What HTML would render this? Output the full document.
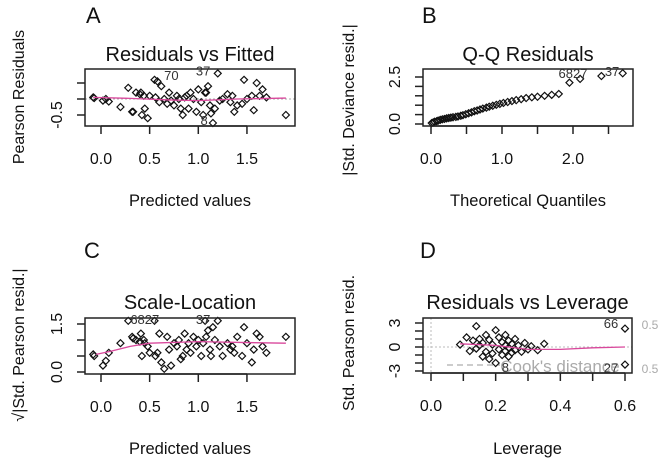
<!DOCTYPE html>
<html><head><meta charset="utf-8"><style>
body{margin:0;background:#fff;}
svg{display:block;font-family:"Liberation Sans",Arial,sans-serif;}
</style></head><body>
<svg id="c" width="669" height="467" viewBox="0 0 669 467"></svg>
<script>
// Panel A data
const fitA=[-0.08,-0.07,0.02,0.05,0.08,0.2,0.28,0.32,0.33,0.36,0.4,0.41,0.42,0.44,0.45,0.48,0.5,0.55,0.56,0.58,0.6,0.62,0.65,0.68,0.7,0.72,0.75,0.78,0.8,0.82,0.84,0.86,0.88,0.9,0.92,0.95,0.98,1.0,1.03,1.05,1.07,1.08,1.1,1.12,1.13,1.15,1.17,1.2,1.22,1.25,1.3,1.33,1.35,1.37,1.4,1.45,1.47,1.5,1.55,1.57,1.6,1.63,1.66,1.7,1.9];
const residA=[0.05,0.03,-0.05,0.0,-0.08,-0.25,0.35,-0.4,-0.4,0.2,0.15,0.2,-0.5,0.1,-0.3,-0.6,0.1,0.6,0.05,0.55,-0.1,0.4,0.0,-0.15,0.2,-0.05,-0.2,0.1,0.0,-0.3,-0.5,0.05,0.1,-0.3,0.2,0.0,-0.4,0.3,-0.1,-0.5,0.2,0.2,0.4,-0.2,-0.45,-0.75,-0.3,0.8,-0.05,0.0,0.15,-0.1,0.1,-0.4,-0.2,-0.15,0.6,0.0,0.1,-0.35,0.5,0.1,0.3,0.05,-0.5];
const smoothAx=[-0.08,0.3,0.7,1.0,1.4,1.9];
const smoothAy=[0.05,0.02,-0.03,-0.05,0.0,0.03];
// Panel B data
const theoB=[0.01,0.03,0.05,0.08,0.1,0.13,0.16,0.19,0.22,0.25,0.28,0.31,0.35,0.38,0.42,0.45,0.49,0.53,0.57,0.61,0.65,0.69,0.73,0.78,0.82,0.87,0.92,0.97,1.02,1.08,1.14,1.2,1.27,1.34,1.42,1.5,1.6,1.7,1.8,1.95,2.1,2.4,2.7];
const residB=[0.05,0.08,0.12,0.15,0.18,0.22,0.25,0.27,0.3,0.32,0.34,0.36,0.38,0.4,0.44,0.47,0.52,0.57,0.62,0.68,0.72,0.77,0.82,0.87,0.92,0.97,1.02,1.07,1.12,1.17,1.22,1.27,1.32,1.38,1.42,1.45,1.5,1.55,1.6,2.2,2.4,2.55,2.7];
// Panel C data
const sqrtC=[0.55,0.5,0.2,0.35,0.6,0.9,1.6,1.1,1.05,1.0,0.95,1.2,0.5,1.0,0.9,0.8,0.6,1.6,0.5,0.6,1.2,0.3,0.1,1.1,0.7,0.2,0.9,0.8,1.0,0.4,0.5,1.2,0.7,0.9,0.6,1.1,0.8,1.0,0.5,0.9,1.6,1.1,1.3,0.7,0.5,1.4,1.0,1.6,0.8,0.5,0.9,0.7,0.8,0.6,1.1,0.5,1.4,0.9,0.3,0.7,1.2,1.1,0.8,0.6,1.1];
const smoothCx=[-0.05,0.1,0.3,0.5,1.0,1.5,1.9];
const smoothCy=[0.55,0.65,0.8,0.9,0.95,0.92,0.9];
// Panel D data
const levD=[0.09,0.11,0.12,0.13,0.14,0.14,0.15,0.15,0.16,0.16,0.17,0.17,0.18,0.18,0.19,0.19,0.2,0.2,0.21,0.21,0.22,0.22,0.23,0.23,0.23,0.24,0.24,0.24,0.25,0.25,0.26,0.26,0.27,0.28,0.29,0.3,0.31,0.33,0.35,0.6,0.6];
const residD=[0.3,1.2,-0.5,0.8,2.6,-0.2,1.0,0.2,-1.2,0.5,1.5,-0.6,0.9,-1.5,0.3,-0.8,2.1,-2.0,1.2,-0.3,0.6,-1.0,1.5,-0.5,0.2,0.8,-1.2,-0.1,0.4,-0.7,1.0,-0.4,0.2,-0.6,0.5,-0.3,0.1,-0.4,0.4,2.3,-2.2];
const smoothDx=[0.09,0.2,0.3,0.4,0.5,0.6];
const smoothDy=[0.4,0.2,-0.3,-0.3,-0.1,0.0];
// tick labels
const ticksAx=[0,0.5,1.0,1.5], ticksAxL=["0.0","0.5","1.0","1.5"];
const ticksBx=[0,0.5,1,1.5,2,2.5], ticksBxL=["0.0","","1.0","","2.0",""];
const ticksDx=[0,0.1,0.2,0.3,0.4,0.5,0.6], ticksDxL=["0.0","","0.2","","0.4","","0.6"];

const svg=document.getElementById('c');
const NS='http://www.w3.org/2000/svg';
function mk(tag,at,parent){const e=document.createElementNS(NS,tag);for(const k in at)e.setAttribute(k,at[k]);(parent||svg).appendChild(e);return e;}
function txt(s,x,y,size,at,parent){const t=mk('text',Object.assign({x:x,y:y,'font-size':size,'text-anchor':'middle',fill:'#111'},at||{}),parent);t.textContent=s;return t;}
function lin(d0,d1,r0,r1){return v=>r0+(v-d0)/(d1-d0)*(r1-r0);}

function panel(o){
  const g=mk('g',{});
  
  
  const X=lin(o.xd[0],o.xd[1],o.xr[0],o.xr[1]), Y=lin(o.yd[0],o.yd[1],o.yr[0],o.yr[1]);
  const L=o.box[0],T=o.box[1],R=o.box[2],B=o.box[3];
  const lab=txt(o.letter,o.letterX,o.letterY,22,{'text-anchor':'start'},g);
  
  const ti=txt(o.title,(L+R)/2,o.titleY,20,{},g);
  
  if(o.extra)o.extra(g,X,Y);
  for(let i=0;i<o.px.length;i++){
    const cx=X(o.px[i]),cy=Y(o.py[i]);
    const p=mk('path',{d:`M${cx-3.5} ${cy}L${cx} ${cy-3.5}L${cx+3.5} ${cy}L${cx} ${cy+3.5}Z`,fill:'none',stroke:'#111','stroke-width':1.2},g);
    
    
  }
  if(o.sx){
    const sl=mk('polyline',{points:o.sx.map((v,i)=>X(v)+','+Y(o.sy[i])).join(' '),fill:'none',stroke:'#d9489c','stroke-width':1.3},g);
    
  }
  const bx=mk('rect',{x:L,y:T,width:R-L,height:B-T,fill:'none',stroke:'#222','stroke-width':1.5},g);
  
  o.xt.forEach((v,i)=>{mk('line',{x1:X(v),x2:X(v),y1:B,y2:B+8,stroke:'#222','stroke-width':1.5},g);
    if(o.xtl[i]){const t=txt(o.xtl[i],X(v),B+38,16,{},g);}});
  mk('line',{x1:X(o.xt[0]),x2:X(o.xt[o.xt.length-1]),y1:B,y2:B,stroke:'#222','stroke-width':1.5},g);
  o.yt.forEach(v=>mk('line',{x1:L-8,x2:L,y1:Y(v),y2:Y(v),stroke:'#222','stroke-width':1.5},g));
  o.ytl.forEach(a=>{const t=txt(a[1],L-27,Y(a[0]),16,{transform:`rotate(-90 ${L-27} ${Y(a[0])})`,'dominant-baseline':'middle'},g);});
  const xl=txt(o.xlab,(L+R)/2,o.xlabY,16.5,{},g);
  
  const yl=txt(o.ylab,o.ylabX,o.ylabY,16,{transform:`rotate(-90 ${o.ylabX} ${o.ylabY})`},g);
  
  (o.ids||[]).forEach(a=>{const t=txt(a[2],X(a[0])+(a[3]||0),Y(a[1]),13,{fill:'#333'},g);});
}

panel({name:'panel-a-residuals-vs-fitted',letter:'A',letterX:86,letterY:23,title:'Residuals vs Fitted',titleY:61,
  box:[85,69,295,126],xd:[0,1],xr:[101,198.3],yd:[0,0.5],yr:[99,83],
  px:fitA,py:residA,sx:smoothAx,sy:smoothAy,xt:ticksAx,xtl:ticksAxL,yt:[0.5,0,-0.5],ytl:[[-0.5,'-0.5']],
  xlab:'Predicted values',xlabY:206,ylab:'Pearson Residuals',ylabX:24,ylabY:97,
  ids:[[0.6,0.6,'70',12],[1.05,0.73,'37'],[1.06,-0.82,'8']],
  extra:(g,X,Y)=>{mk('line',{x1:85,x2:295,y1:Y(0),y2:Y(0),stroke:'#aaa','stroke-dasharray':'2 2'},g);}});

panel({name:'panel-b-qq-residuals',letter:'B',letterX:422,letterY:23,title:'Q-Q Residuals',titleY:61,
  box:[423,69,633,126],xd:[0,1],xr:[431,502],yd:[0,2.5],yr:[124,77],
  px:theoB,py:residB,xt:ticksBx,xtl:ticksBxL,yt:[0,0.5,1,1.5,2,2.5],ytl:[[0,'0.0'],[2.5,'2.5']],
  xlab:'Theoretical Quantiles',xlabY:206,ylab:'|Std. Deviance resid.|',ylabX:354,ylabY:100,
  ids:[[2.0,2.45,'6827'],[2.55,2.55,'37']]});

panel({name:'panel-c-scale-location',letter:'C',letterX:84,letterY:258,title:'Scale-Location',titleY:309,
  box:[85,318,295,374],xd:[0,1],xr:[101,198.3],yd:[0,1.5],yr:[372,324],
  px:fitA,py:sqrtC,sx:smoothCx,sy:smoothCy,xt:ticksAx,xtl:ticksAxL,yt:[0,0.5,1,1.5],ytl:[[0,'0.0'],[1.5,'1.5']],
  xlab:'Predicted values',xlabY:454,ylab:'√|Std. Pearson resid.|',ylabX:24,ylabY:345,
  ids:[[0.45,1.5,'6827'],[1.05,1.5,'37']]});

panel({name:'panel-d-residuals-vs-leverage',letter:'D',letterX:420,letterY:258,title:'Residuals vs Leverage',titleY:309,
  box:[423,318,632,373],xd:[0,0.6],xr:[431,625],yd:[0,3],yr:[347,323],
  px:levD,py:residD,sx:smoothDx,sy:smoothDy,xt:ticksDx,xtl:ticksDxL,yt:[3,2,1,0,-1,-2,-3],ytl:[[3,'3'],[0,'0'],[-3,'-3']],
  xlab:'Leverage',xlabY:454,ylab:'Std. Pearson resid.',ylabX:354,ylabY:343,
  ids:[[0.6,2.4,'66',-14],[0.6,-3.2,'27',-14],[0.23,-3.1,'8']],
  extra:(g,X,Y)=>{
    mk('line',{x1:423,x2:632,y1:Y(0),y2:Y(0),stroke:'#bbb','stroke-dasharray':'2 2'},g);
    mk('line',{x1:X(0),x2:X(0),y1:318,y2:373,stroke:'#bbb','stroke-dasharray':'2 2'},g);
    mk('line',{x1:447,x2:500,y1:365,y2:365,stroke:'#999','stroke-dasharray':'6 4'},g);
    const ck=txt("Cook's distance",560,372,17,{fill:'#aaa'},g);
    const a=txt('0.5',650,329,12,{fill:'#aaa'},g);
    const b=txt('0.5',650,373,12,{fill:'#aaa'},g);
  }});
</script>
</body></html>
